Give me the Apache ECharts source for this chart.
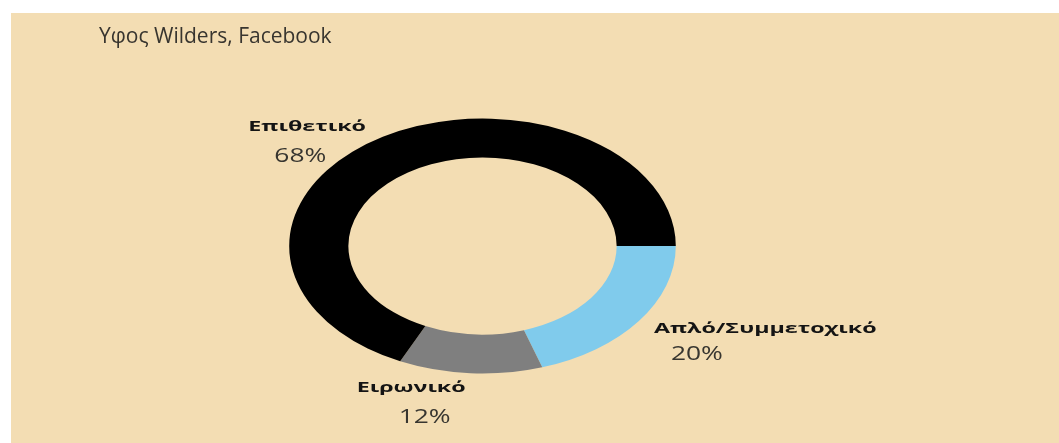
<!DOCTYPE html>
<html>
<head>
<meta charset="utf-8">
<script src="https://cdn.jsdelivr.net/npm/echarts@6/dist/echarts.min.js"></script>
<style>
  html, body { margin: 0; padding: 0; background: #ffffff; }
  #chart { position: absolute; left: 11px; top: 13px; width: 1048px; height: 430px; }
</style>
</head>
<body>
<div id="chart"></div>
<script>
// Tone of the posts, listed clockwise starting from 3 o'clock
const categories = ['Απλό/Συμμετοχικό', 'Ειρωνικό', 'Επιθετικό'];
const shares = [20, 12, 68];
const titleText = 'Υφος Wilders, Facebook';

// Styling and layout
const sliceColors = ['#80CBEC', '#7F7F7F', '#000000'];
const ring = { cx: 471.5, cy: 233, rx: 193.3, ry: 127.5, inner: 0.694 };
// offsets of each label from the outer rim at the slice's mid-angle: [nameDx, nameDy, pctDx, pctDy]
const labelOffsets = [
  [15, 8.5, 32, 33],
  [-113.7, 15, -71.7, 43.7],
  [-130.6, -11, -104.6, 18]
];
const nameFont = { size: 14, stretch: 1.66, color: '#141414' };
const pctFont = { size: 20, stretch: 1.32, color: '#383630' };

const total = shares.reduce((a, b) => a + b, 0);
const startShares = [];
shares.reduce((acc, v) => { startShares.push(acc); return acc + v; }, 0);

function renderSlice(params, api) {
  const i = params.dataIndex;
  const v = api.value(0);
  const a0 = startShares[i] / total * Math.PI * 2;
  const a1 = a0 + v / total * Math.PI * 2;
  const mid = (a0 + a1) / 2;
  const ax = ring.cx + ring.rx * Math.cos(mid);
  const ay = ring.cy + ring.ry * Math.sin(mid);
  const off = labelOffsets[i];
  return {
    type: 'group',
    children: [
      {
        type: 'sector',
        x: ring.cx, y: ring.cy,
        scaleX: ring.rx / ring.ry,
        shape: { cx: 0, cy: 0, r: ring.ry, r0: ring.ry * ring.inner, startAngle: a0, endAngle: a1, clockwise: true },
        style: { fill: sliceColors[i] }
      },
      {
        type: 'text',
        x: ax + off[0], y: ay + off[1],
        scaleX: nameFont.stretch,
        style: {
          text: categories[i],
          fontFamily: 'Open Sans', fontSize: nameFont.size, fontWeight: 'bold',
          fill: nameFont.color, align: 'left', verticalAlign: 'middle'
        }
      },
      {
        type: 'text',
        x: ax + off[2], y: ay + off[3],
        scaleX: pctFont.stretch,
        style: {
          text: Math.round(v / total * 100) + '%',
          fontFamily: 'Open Sans', fontSize: pctFont.size, fontWeight: 'normal',
          fill: pctFont.color, align: 'left', verticalAlign: 'middle'
        }
      }
    ]
  };
}

const chart = echarts.init(document.getElementById('chart'));
chart.setOption({
  backgroundColor: '#F3DDB3',
  animation: false,
  title: {
    text: titleText,
    left: 88, top: 14, padding: 0,
    textStyle: { fontFamily: 'Open Sans', fontSize: 21, fontWeight: 'normal', color: '#38352f' }
  },
  series: [{
    type: 'custom',
    coordinateSystem: 'none',
    renderItem: renderSlice,
    data: shares.map((v, i) => ({ name: categories[i], value: v }))
  }]
});
</script>
</body>
</html>
